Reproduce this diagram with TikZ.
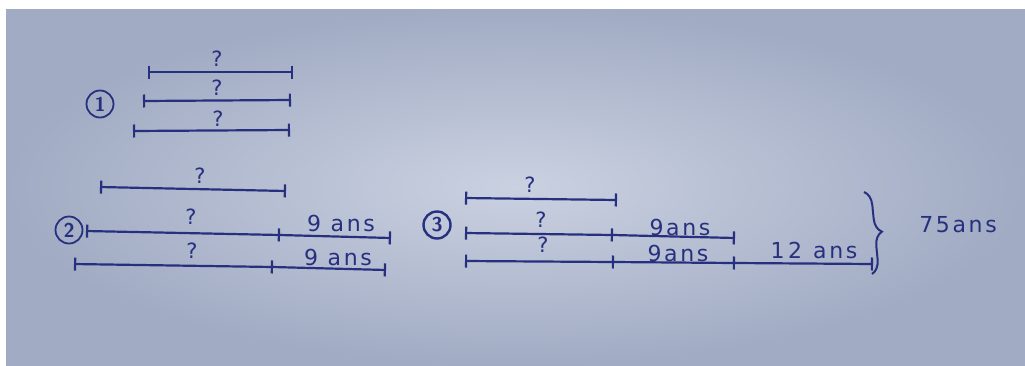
\documentclass[tikz,border=0pt]{standalone}
\usepackage{fontspec}
\newfontfamily\hand[LetterSpace=12]{DejaVu Sans}
\usetikzlibrary{arrows.meta,decorations.pathreplacing}
\definecolor{ink}{HTML}{27307E}
\definecolor{paperin}{HTML}{CAD1E1}
\definecolor{paperout}{HTML}{A1ABC3}
\tikzset{
  seg/.style={draw=ink, line width=2.2pt, {Bar[width=13pt]}-{Bar[width=13pt]}},
  segr/.style={draw=ink, line width=2.2pt, -{Bar[width=13pt]}},
  q/.style={text=ink, font=\hand\fontsize{21}{24}\selectfont, inner sep=0pt},
  lab/.style={text=ink, font=\hand\fontsize{22}{26}\selectfont, inner sep=0pt},
  num/.style={draw=ink, line width=1.8pt, circle, minimum size=27pt, inner sep=0pt,
              text=ink, font=\sffamily\bfseries\fontsize{20}{22}\selectfont},
  brc/.style={draw=ink, line width=2pt, decorate,
              decoration={brace, amplitude=14pt}},
}
\begin{document}
\begin{tikzpicture}[x=1pt,y=-1pt]
\useasboundingbox (0,0) rectangle (1025,365);
\fill[white] (0,0) rectangle (1025,365);
\shade[inner color=paperin, outer color=paperout] (6,9) rectangle (1025,365);

% ---- 1 ----
\node[num] (n1) at (100,104) {1};
\coordinate (l1a) at (148,72);  \coordinate (l1b) at (293,72);
\coordinate (l2a) at (143,101); \coordinate (l2b) at (291,100);
\coordinate (l3a) at (133,131); \coordinate (l3b) at (290,130);
\draw[seg] (l1a) -- (l1b);
\draw[seg] (l2a) -- (l2b);
\draw[seg] (l3a) -- (l3b);
\node[q] (q1) at (217,59) {?};
\node[q] (q2) at (217,88) {?};
\node[q] (q3) at (218,119) {?};

% ---- 2 ----
\node[num] (n2) at (69,230) {2};
\coordinate (l4a) at (100,187); \coordinate (l4b) at (286,191);
\coordinate (l5a) at (86,231);  \coordinate (l5m) at (280,235); \coordinate (l5b) at (391,238);
\coordinate (l6a) at (74,264);  \coordinate (l6m) at (273,267); \coordinate (l6b) at (386,270);
\draw[seg] (l4a) -- (l4b);
\draw[seg] (l5a) -- (l5m);
\draw[segr] (l5m) -- (l5b);
\draw[seg] (l6a) -- (l6m);
\draw[segr] (l6m) -- (l6b);
\node[q] (q4) at (200,176) {?};
\node[q] (q5) at (191,217) {?};
\node[q] (q6) at (192,251) {?};
\node[lab] (t5) at (341,223) {9 ans};
\node[lab] (t6) at (338,257) {9 ans};

% ---- 3 ----
\node[num, line width=2.4pt] (n3) at (437,225) {3};
\coordinate (l7a) at (465,198); \coordinate (l7b) at (617,200);
\coordinate (l8a) at (465,233); \coordinate (l8m) at (613,235); \coordinate (l8b) at (735,238);
\coordinate (l9a) at (465,261); \coordinate (l9m) at (614,262); \coordinate (l9n) at (735,263); \coordinate (l9b) at (873,264);
\draw[seg] (l7a) -- (l7b);
\draw[seg] (l8a) -- (l8m);
\draw[segr] (l8m) -- (l8b);
\draw[seg] (l9a) -- (l9m);
\draw[segr] (l9m) -- (l9n);
\draw[segr] (l9n) -- (l9b);
\node[q] (q7) at (530,185) {?};
\node[q] (q8) at (541,220) {?};
\node[q] (q9) at (543,245) {?};
\node[lab] (t8) at (680,227) {9ans};
\node[lab] (t9) at (678,253) {9ans};
\node[lab] (t10) at (814,250) {1\,2\,\,\,ans};

\coordinate (bt) at (864,192);
\coordinate (bb) at (872,274);
\draw[brc] (bt) -- (bb);
\node[lab] (t11) at (958,225) {75ans};
\end{tikzpicture}
\end{document}
